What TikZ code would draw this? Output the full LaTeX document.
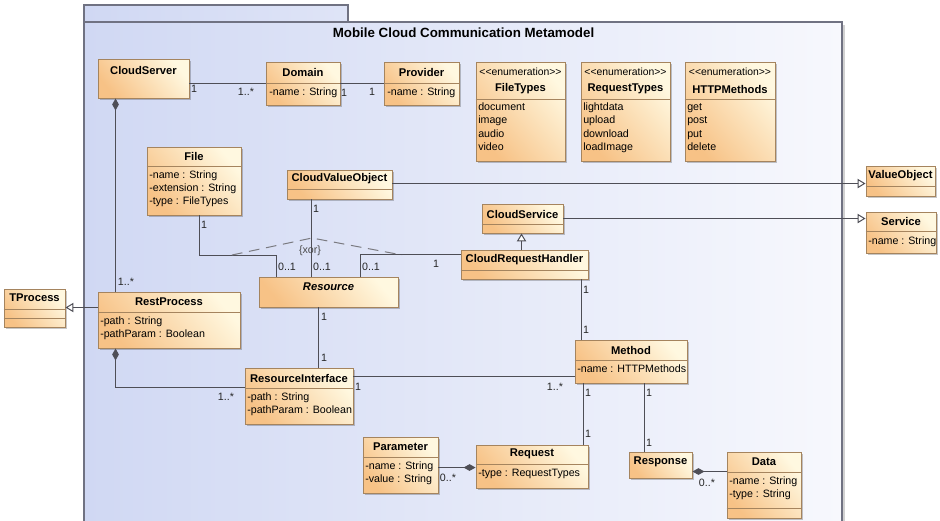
\documentclass[tikz,border=0pt]{standalone}
\usepackage{fontspec}
\setmainfont{Liberation Sans}
\usetikzlibrary{arrows.meta,calc,fit,shadows}

\definecolor{pkgA}{RGB}{208,216,243}
\definecolor{pkgB}{RGB}{247,248,253}
\definecolor{pkgLine}{RGB}{112,114,130}
\definecolor{clsA}{RGB}{247,194,134}
\definecolor{clsB}{RGB}{255,248,224}
\definecolor{clsLine}{RGB}{165,132,94}
\definecolor{wire}{RGB}{78,78,86}

\tikzset{
  cls/.style={draw=clsLine, line width=0.7pt, inner sep=0pt,
    top color=clsB, bottom color=clsA, shading angle=-50,
    drop shadow={shadow xshift=1.6pt, shadow yshift=-1.6pt, fill=black, opacity=0.22}},
  sep/.style={draw=clsLine, line width=0.6pt},
  cname/.style={font=\fontsize{8.4}{10}\selectfont\bfseries, inner sep=0pt},
  attr/.style={font=\fontsize{8}{9.6}\selectfont, inner sep=0pt, anchor=west,
    text height=5.8pt, text depth=1.6pt},
  stereo/.style={font=\fontsize{7.8}{9}\selectfont, inner sep=0pt},
  mult/.style={font=\fontsize{8}{9.6}\selectfont, inner sep=0pt, text=black!85},
  wire/.style={draw=wire, line width=0.75pt},
  gen/.style={wire, -{Triangle[open, length=6pt, width=7pt, fill=white]}},
  comp/.style={wire, {Diamond[length=9pt, width=5pt, fill=wire]}-},
  xorline/.style={draw=wire!75, line width=0.75pt, dash pattern=on 8pt off 5pt},
}
% compartment separator inside a class box
\newcommand\csep[2]{\draw[sep] (#1.west |- 0,#2) -- (#1.east |- 0,#2);}

\begin{document}
\begin{tikzpicture}[x=0.75pt, y=-0.75pt]
\useasboundingbox (0,0) rectangle (940,521);
\clip (0,0) rectangle (940,521);
\fill[white] (0,0) rectangle (940,521);

% ---------- package frame ----------
\node[fit={(84,22) (842,540)}, inner sep=0pt, draw=pkgLine, line width=1pt,
      left color=pkgA, right color=pkgB,
      drop shadow={shadow xshift=2pt, shadow yshift=-2pt, fill=black, opacity=0.18}] (pkg) {};
\node[fit={(84,5) (348,22)}, inner sep=0pt, draw=pkgLine, line width=1pt,
      left color=pkgA, right color=pkgA!62!pkgB] (pkgtab) {};
\node[font=\fontsize{10}{12}\selectfont\bfseries] (pkgname) at (463.5,33)
      {Mobile Cloud Communication Metamodel};

% ---------- classes ----------
\node[cls, fit={(98,59) (189,98)}] (cserver) {};
\node[cname] (cserver-n) at (143.5,70) {CloudServer};

\node[cls, fit={(266,62) (340,105)}] (domain) {};
\node[cname] (domain-n) at (303,72) {Domain};
\csep{domain}{83}
\node[attr] (domain-a) at (269,93) {-name : String};

\node[cls, fit={(384,62) (459,105)}] (provider) {};
\node[cname] (provider-n) at (421.5,72) {Provider};
\csep{provider}{83}
\node[attr] (provider-a) at (387,93) {-name : String};

\node[cls, fit={(476,62) (565,161)}] (ftypes) {};
\node[stereo] (ftypes-s) at (520.5,72) {<{}<enumeration>{}>};
\node[cname] (ftypes-n) at (520.5,89) {FileTypes};
\csep{ftypes}{99}
\node[attr] (ftypes-1) at (478,108) {document};
\node[attr] (ftypes-2) at (478,121) {image};
\node[attr] (ftypes-3) at (478,135) {audio};
\node[attr] (ftypes-4) at (478,148) {video};

\node[cls, fit={(581,62) (670,161)}] (rtypes) {};
\node[stereo] (rtypes-s) at (625.5,72) {<{}<enumeration>{}>};
\node[cname] (rtypes-n) at (625.5,89) {RequestTypes};
\csep{rtypes}{99}
\node[attr] (rtypes-1) at (583,108) {lightdata};
\node[attr] (rtypes-2) at (583,121) {upload};
\node[attr] (rtypes-3) at (583,135) {download};
\node[attr] (rtypes-4) at (583,148) {loadImage};

\node[cls, fit={(685,62) (775,161)}] (hmeth) {};
\node[stereo] (hmeth-s) at (730,72) {<{}<enumeration>{}>};
\node[cname] (hmeth-n) at (730,89) {HTTPMethods};
\csep{hmeth}{99}
\node[attr] (hmeth-1) at (687,108) {get};
\node[attr] (hmeth-2) at (687,121) {post};
\node[attr] (hmeth-3) at (687,135) {put};
\node[attr] (hmeth-4) at (687,148) {delete};

\node[cls, fit={(866,166) (935,196)}] (vobj) {};
\node[cname] (vobj-n) at (900.5,176) {ValueObject};
\csep{vobj}{186}

\node[cls, fit={(866,212) (936,253)}] (service) {};
\node[cname] (service-n) at (901,221) {Service};
\csep{service}{231}
\node[attr] (service-a) at (868,242) {-name : String};

\node[cls, fit={(147,147) (241,215)}] (file) {};
\node[cname] (file-n) at (194,156) {File};
\csep{file}{166}
\node[attr] (file-1) at (149,176) {-name : String};
\node[attr] (file-2) at (149,189) {-extension : String};
\node[attr] (file-3) at (149,202) {-type : FileTypes};

\node[cls, fit={(287,170) (392,199)}] (cvo) {};
\node[cname] (cvo-n) at (339.5,179) {CloudValueObject};
\csep{cvo}{189}

\node[cls, fit={(482,204) (563,233)}] (csvc) {};
\node[cname] (csvc-n) at (522.5,214) {CloudService};
\csep{csvc}{224}

\node[cls, fit={(461,250) (588,279)}] (crh) {};
\node[cname] (crh-n) at (524.5,260) {CloudRequestHandler};
\csep{crh}{270}

\node[cls, fit={(259,277) (398,307)}] (res) {};
\node[cname, font=\fontsize{8.4}{10}\selectfont\bfseries\itshape] (res-n) at (328.5,287) {Resource};

\node[cls, fit={(4,289) (65,327)}] (tproc) {};
\node[cname] (tproc-n) at (34.5,298) {TProcess};
\csep{tproc}{309}
\csep{tproc}{318}

\node[cls, fit={(98,292) (240,348)}] (restp) {};
\node[cname] (restp-n) at (169,302) {RestProcess};
\csep{restp}{312}
\node[attr] (restp-1) at (100,322) {-path : String};
\node[attr] (restp-2) at (100,335) {-pathParam : Boolean};

\node[cls, fit={(245,368) (353,424)}] (ri) {};
\node[cname] (ri-n) at (299,378) {ResourceInterface};
\csep{ri}{388}
\node[attr] (ri-1) at (247,398) {-path : String};
\node[attr] (ri-2) at (247,411) {-pathParam : Boolean};

\node[cls, fit={(575,340) (687,383)}] (method) {};
\node[cname] (method-n) at (631,350) {Method};
\csep{method}{360}
\node[attr] (method-a) at (577,370) {-name : HTTPMethods};

\node[cls, fit={(363,437) (438,493)}] (param) {};
\node[cname] (param-n) at (400.5,447) {Parameter};
\csep{param}{457}
\node[attr] (param-1) at (365,467) {-name : String};
\node[attr] (param-2) at (365,480) {-value : String};

\node[cls, fit={(476,445) (588,488)}] (request) {};
\node[cname] (request-n) at (532,454) {Request};
\csep{request}{464}
\node[attr] (request-a) at (478,474) {-type : RequestTypes};

\node[cls, fit={(629,452) (692,478)}] (response) {};
\node[cname] (response-n) at (660.5,462) {Response};

\node[cls, fit={(727,452) (801,518)}] (data) {};
\node[cname] (data-n) at (764,462) {Data};
\csep{data}{472}
\node[attr] (data-1) at (729,482) {-name : String};
\node[attr] (data-2) at (729,495) {-type : String};
\csep{data}{508}

% ---------- associations ----------
\draw[wire] (cserver.east |- domain.west) -- (domain.west);
\draw[wire] (domain.east) -- (provider.west);
\draw[wire] ($(file.south west)+(53,0)$) -- ++(0,40) -| ($(res.north west)+(18,0)$);
\draw[wire] ($(cvo.south west)+(25,0)$) coordinate (cvoA) -- (cvoA |- res.north);
\draw[wire] ($(crh.north west)+(0,5)$) -| ($(res.north west)+(102,0)$);
\draw[wire] ($(res.south west)+(60,0)$) coordinate (resA) -- (resA |- ri.north);
\draw[wire] ($(ri.north east)+(0,9)$) coordinate (riA) -- (riA -| method.west);
\draw[wire] ($(crh.south west)+(121,0)$) coordinate (crhA) -- (crhA |- method.north);
\draw[wire] ($(method.south west)+(9,0)$) coordinate (mA) -- (mA |- request.north);
\draw[wire] ($(method.south west)+(70,0)$) coordinate (mB) -- (mB |- response.north);

% ---------- compositions ----------
\draw[comp] ($(cserver.south west)+(18,0)$) coordinate (csA) -- (csA |- restp.north);
\draw[comp] ($(restp.south west)+(18,0)$) |- ($(ri.north west)+(0,20)$);
\draw[comp] ($(request.north west)+(0,23)$) coordinate (rqA) -- (rqA -| param.east);
\draw[comp] ($(response.north east)+(0,20)$) coordinate (rsA) -- (rsA -| data.west);

% ---------- generalizations ----------
\draw[gen] ($(restp.north west)+(0,16)$) coordinate (rpA) -- (rpA -| tproc.east);
\draw[gen] ($(cvo.north east)+(0,14)$) coordinate (cvoB) -- (cvoB -| vobj.west);
\draw[gen] ($(csvc.north east)+(0,15)$) coordinate (csB) -- (csB -| service.west);
\draw[gen] ($(crh.north west)+(61,0)$) coordinate (crhB) -- (crhB |- csvc.south);

% ---------- xor constraint ----------
\coordinate (xorL) at (232,255);
\coordinate (xorT) at (312,238);
\coordinate (xorR) at (402,255);
\draw[xorline] (xorL) -- (xorT) -- (xorR);
\node[mult, text=black!70] (xorlbl) at (310,251) {\{xor\}};

% ---------- multiplicities ----------
\node[mult] (m1) at (194,89) {1};
\node[mult] (m2) at (246,92) {1..*};
\node[mult] (m3) at (344,93) {1};
\node[mult] (m4) at (372,92) {1};
\node[mult] (m5) at (126,282) {1..*};
\node[mult] (m6) at (204,225) {1};
\node[mult] (m7) at (316,209) {1};
\node[mult] (m8) at (287,267) {0..1};
\node[mult] (m9) at (322,267) {0..1};
\node[mult] (m10) at (371,267) {0..1};
\node[mult] (m11) at (436,264) {1};
\node[mult] (m12) at (586,290) {1};
\node[mult] (m13) at (586,330) {1};
\node[mult] (m14) at (324,317) {1};
\node[mult] (m15) at (324,358) {1};
\node[mult] (m16) at (358,387) {1};
\node[mult] (m17) at (226,397) {1..*};
\node[mult] (m18) at (555,387) {1..*};
\node[mult] (m19) at (588,393) {1};
\node[mult] (m20) at (588,434) {1};
\node[mult] (m21) at (649,393) {1};
\node[mult] (m22) at (649,443) {1};
\node[mult] (m23) at (448,478) {0..*};
\node[mult] (m24) at (707,483) {0..*};
\end{tikzpicture}
\end{document}
